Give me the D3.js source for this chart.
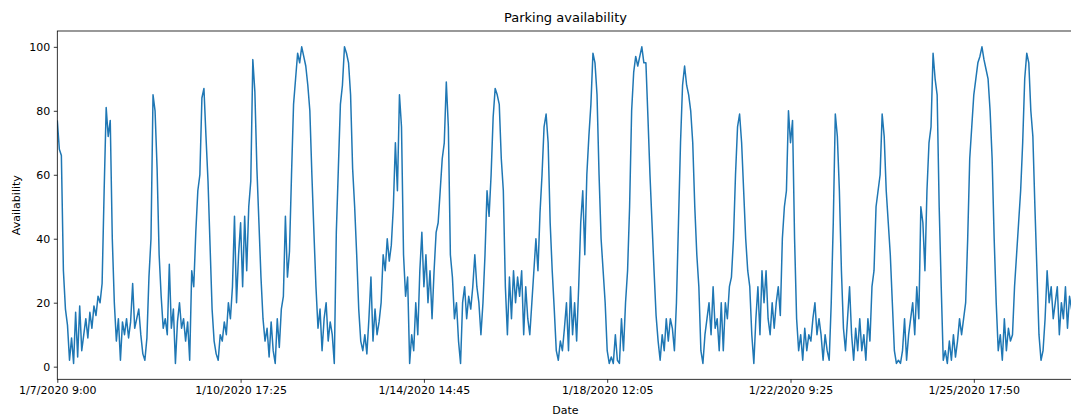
<!DOCTYPE html>
<html>
<head>
<meta charset="utf-8">
<script src="https://cdn.jsdelivr.net/npm/d3@7"></script>
<style>
  body { margin: 0; background: #fff; }
  text { font-family: "DejaVu Sans", sans-serif; fill: #000; }
</style>
</head>
<body>
<div id="chart"></div>
<script>
// Disponibilidad (un valor cada ~2 px)
const availability = [
  77, 68, 66, 30, 18, 13, 2, 9, 1, 17,
  3, 19, 5, 10, 15, 9, 17, 12, 19, 16,
  22, 20, 26, 55, 81, 72, 77, 40, 20, 8,
  15, 2, 14, 10, 15, 9, 14, 26, 12, 15,
  18, 10, 4, 2, 9, 28, 40, 85, 80, 62,
  35, 22, 12, 15, 10, 32, 12, 18, 1, 14,
  20, 12, 15, 8, 14, 2, 30, 25, 42, 55,
  60, 84, 87, 72, 58, 38, 18, 8, 4, 2,
  10, 8, 14, 10, 20, 15, 25, 47, 20, 35,
  45, 25, 47, 30, 50, 58, 96, 86, 62, 45,
  28, 15, 8, 12, 3, 14, 5, 1, 15, 6,
  18, 22, 47, 28, 36, 60, 82, 90, 98, 95,
  100, 97, 94, 88, 80, 60, 42, 25, 12, 18,
  5, 15, 20, 8, 14, 10, 1, 42, 62, 82,
  88, 100, 98, 95, 85, 62, 50, 35, 18, 8,
  5, 10, 4, 15, 28, 8, 18, 10, 14, 20,
  35, 30, 40, 33, 38, 50, 70, 55, 85, 75,
  35, 22, 28, 1, 10, 5, 20, 10, 30, 42,
  25, 35, 20, 30, 15, 30, 42, 45, 55, 65,
  70, 89, 75, 35, 28, 15, 20, 8, 1, 20,
  25, 15, 22, 18, 25, 35, 25, 20, 10, 20,
  35, 55, 47, 60, 78, 87, 85, 82, 65, 55,
  25, 10, 28, 15, 30, 20, 28, 22, 30, 10,
  25, 15, 10, 20, 30, 40, 30, 48, 60, 75,
  79, 70, 45, 30, 18, 5, 2, 8, 5, 12,
  20, 5, 25, 10, 20, 8, 25, 45, 55, 35,
  60, 72, 82, 98, 95, 85, 60, 40, 30, 20,
  5, 1, 3, 1, 10, 2, 1, 15, 5, 20,
  30, 50, 80, 92, 97, 94, 97, 100, 95, 95,
  78, 60, 45, 30, 16, 8, 2, 10, 5, 15,
  8, 15, 12, 5, 20, 45, 70, 88, 94, 88,
  85, 80, 70, 50, 35, 25, 5, 1, 10, 15,
  20, 10, 25, 12, 15, 5, 20, 5, 20, 15,
  25, 28, 40, 60, 75, 79, 70, 55, 40, 30,
  25, 10, 1, 15, 25, 10, 30, 20, 30, 15,
  10, 20, 12, 20, 25, 16, 40, 50, 55, 80,
  70, 77, 40, 15, 5, 10, 2, 12, 5, 10,
  8, 15, 20, 10, 15, 10, 2, 10, 5, 2,
  20, 45, 79, 72, 55, 30, 12, 5, 15, 25,
  10, 2, 12, 5, 15, 5, 10, 2, 15, 8,
  25, 30, 50, 55, 60, 79, 72, 55, 45, 35,
  20, 5, 1, 2, 1, 5, 15, 2, 10, 15,
  20, 10, 25, 15, 50, 45, 30, 55, 70, 75,
  98, 90, 85, 50, 25, 2, 5, 1, 8, 2,
  10, 3, 8, 15, 10, 15, 20, 40, 65, 75,
  85, 90, 95, 97, 100, 96, 93, 90, 80, 65,
  40, 20, 5, 10, 2, 15, 5, 12, 8, 10,
  25, 35, 45, 55, 70, 90, 98, 95, 80, 72,
  50, 30, 10, 2, 5, 15, 30, 20, 25, 15,
  20, 25, 10, 20, 15, 25, 12, 22, 18, 25
];

// Etiquetas del eje X (posiciones en el índice de la serie)
const tickIndex = [0, 90, 180, 270, 360, 450];
const tickLabels = ["1/7/2020 9:00", "1/10/2020 17:25", "1/14/2020 14:45",
                    "1/18/2020 12:05", "1/22/2020 9:25", "1/25/2020 17:50"];
const yTicks = [0, 20, 40, 60, 80, 100];

const W = 1071, H = 416;
const plot = { left: 57.3, right: 1073.6, top: 31, bottom: 379.3 };

const svg = d3.select("#chart")
    .append("svg")
    .attr("width", W)
    .attr("height", H);

const x = d3.scaleLinear().domain([0, availability.length - 1]).range([plot.left, plot.right]);
const y = d3.scaleLinear().domain([-3.95, 104.95]).range([plot.bottom, plot.top]);

svg.append("clipPath").attr("id", "clip")
    .append("rect")
    .attr("x", plot.left).attr("y", plot.top)
    .attr("width", plot.right - plot.left).attr("height", plot.bottom - plot.top);

// Línea
svg.append("path")
    .datum(availability)
    .attr("clip-path", "url(#clip)")
    .attr("fill", "none")
    .attr("stroke", "#1f77b4")
    .attr("stroke-width", 1.5)
    .attr("stroke-linejoin", "round")
    .attr("d", d3.line().x((d, i) => x(i)).y(d => y(d)));

// Marco
svg.append("rect")
    .attr("x", plot.left).attr("y", plot.top)
    .attr("width", plot.right - plot.left).attr("height", plot.bottom - plot.top)
    .attr("fill", "none")
    .attr("stroke", "#000")
    .attr("stroke-width", 0.8);

// Ejes
const xAxis = svg.append("g")
    .attr("transform", `translate(0, ${plot.bottom})`)
    .call(d3.axisBottom(x).tickValues(tickIndex)
        .tickFormat((d, i) => tickLabels[i]).tickSize(3.5).tickPadding(3.5));

const yAxis = svg.append("g")
    .attr("transform", `translate(${plot.left}, 0)`)
    .call(d3.axisLeft(y).tickValues(yTicks).tickSize(3.5).tickPadding(3.5));

[xAxis, yAxis].forEach(g => {
    g.select(".domain").remove();
    g.selectAll(".tick line").attr("stroke", "#000").attr("stroke-width", 0.8);
    g.selectAll(".tick text").style("font-size", "11px").style("font-family", "DejaVu Sans").attr("fill", "#000");
});

// Títulos
svg.append("text")
    .attr("x", (plot.left + plot.right) / 2)
    .attr("y", 22)
    .attr("text-anchor", "middle")
    .style("font-size", "13px")
    .text("Parking availability");

svg.append("text")
    .attr("x", (plot.left + plot.right) / 2)
    .attr("y", 414)
    .attr("text-anchor", "middle")
    .style("font-size", "11px")
    .text("Date");

svg.append("text")
    .attr("transform", `translate(20, ${(plot.top + plot.bottom) / 2}) rotate(-90)`)
    .attr("text-anchor", "middle")
    .style("font-size", "11px")
    .text("Availability");
</script>
</body>
</html>
